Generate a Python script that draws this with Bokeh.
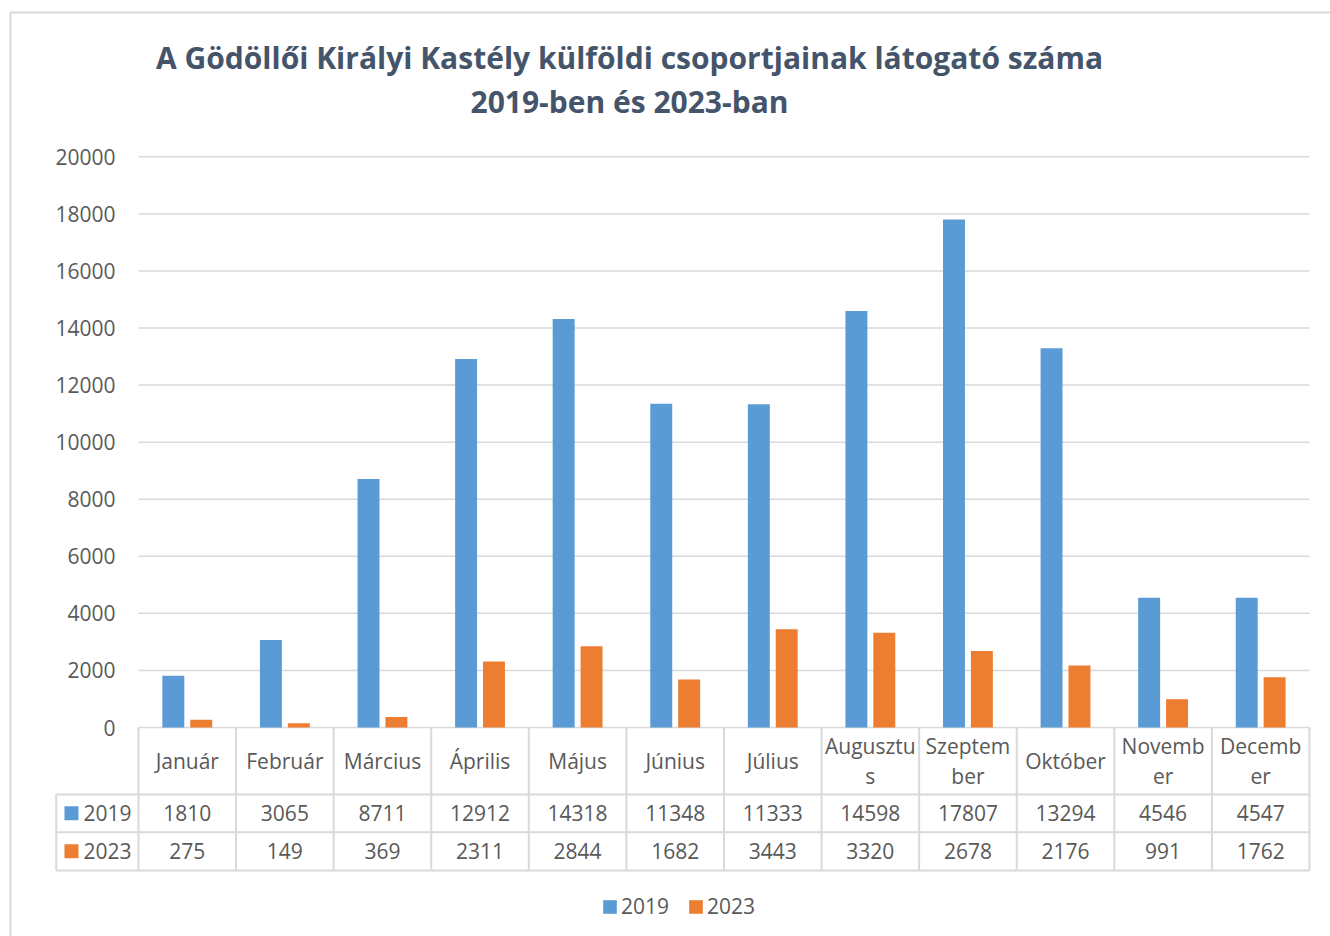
from bokeh.plotting import figure
from bokeh.models import ColumnDataSource, Range1d, Legend, LegendItem
from bokeh.embed import file_html
from bokeh.resources import INLINE
from bokeh.core.properties import value

# ---------------- data ----------------
months = ["Január", "Február", "Március", "Április", "Május", "Június",
          "Július", "Augusztus", "Szeptember", "Október", "November", "December"]
month_labels = ["Január", "Február", "Március", "Április", "Május", "Június",
                "Július", "Augusztu\ns", "Szeptem\nber", "Október", "Novemb\ner", "Decemb\ner"]
series_names = ["2019", "2023"]
v2019 = [1810, 3065, 8711, 12912, 14318, 11348, 11333, 14598, 17807, 13294, 4546, 4547]
v2023 = [275, 149, 369, 2311, 2844, 1682, 3443, 3320, 2678, 2176, 991, 1762]
y_ticks = [0, 2000, 4000, 6000, 8000, 10000, 12000, 14000, 16000, 18000, 20000]
title_lines = ["A Gödöllői Királyi Kastély külföldi csoportjainak látogató száma",
               "2019-ben és 2023-ban"]

# ---------------- style ----------------
colors = ["#5B9BD5", "#ED7D31"]
FONT = "Open Sans"
TXT = "#595959"
GRID = "#D9D9D9"
TITLE_C = "#44546A"
FS = "21px"
BAR_W = 0.225
DODGE = 0.143

n = len(months)
centers = [i + 0.5 for i in range(n)]

W, H = 1330, 936
p = figure(width=W, height=H, title=None,
           x_range=Range1d(-1.41423, 12.2156), y_range=Range1d(-7324, 25478),
           x_axis_location=None, y_axis_location=None,
           output_backend="svg", toolbar_location=None,
           min_border_left=0, min_border_right=0, min_border_top=0, min_border_bottom=0)
# layout ranges in canvas pixels (x from left, y downward from the value-axis zero line)
p.extra_x_ranges = {"px": Range1d(0, W)}
p.extra_y_ranges = {"tbl": Range1d(209, -727)}
p.outline_line_color = None
p.background_fill_color = "white"
p.border_fill_color = "white"
p.grid.visible = False
for g in list(p.center):
    if g.__class__.__name__ == "Grid":
        g.visible = False

# ---------------- chart-area border ----------------
PX = dict(x_range_name="px", y_range_name="tbl")
p.segment(x0=[10, 10], x1=[10, W], y0=[-715, -715], y1=[209, -715],
          line_color=GRID, line_width=2, **PX)

# ---------------- title ----------------
p.text(x=[629, 629], y=[-670, -626], text=title_lines, text_align="center", text_baseline="middle",
       text_font=value(FONT), text_font_size="30px", text_font_style="bold", text_color=TITLE_C, **PX)

# ---------------- gridlines + value labels ----------------
gl = p.segment(x0=[0] * len(y_ticks), x1=[n] * len(y_ticks), y0=y_ticks, y1=y_ticks,
               line_color=GRID, line_width=1.5)
gl.level = "underlay"
p.text(x=[0] * len(y_ticks), y=y_ticks, text=[str(t) for t in y_ticks], x_offset=-23,
       text_align="right", text_baseline="middle",
       text_font=value(FONT), text_font_size=FS, text_color=TXT)

# ---------------- bars ----------------
src19 = ColumnDataSource(dict(x=[c - DODGE for c in centers], top=v2019, month=months))
src23 = ColumnDataSource(dict(x=[c + DODGE for c in centers], top=v2023, month=months))
p.vbar(x="x", top="top", bottom=0, width=BAR_W, source=src19, fill_color=colors[0], line_color=None)
p.vbar(x="x", top="top", bottom=0, width=BAR_W, source=src23, fill_color=colors[1], line_color=None)

# ---------------- data table ----------------
LEFT = -0.843
ROW_HDR, ROW_A, ROW_B = 67, 104.7, 143
T = dict(y_range_name="tbl")
tb_lines = dict(line_color=GRID, line_width=2, **T)
p.segment(x0=[LEFT] * 3, x1=[n] * 3, y0=[ROW_HDR, ROW_A, ROW_B], y1=[ROW_HDR, ROW_A, ROW_B], **tb_lines)
bounds = list(range(n + 1))
p.segment(x0=bounds, x1=bounds, y0=[0] * (n + 1), y1=[ROW_B] * (n + 1), **tb_lines)
p.segment(x0=[LEFT], x1=[LEFT], y0=[ROW_HDR], y1=[ROW_B], **tb_lines)

txt = dict(text_font=value(FONT), text_font_size=FS, text_color=TXT, text_baseline="middle", **T)
p.text(x=centers, y=[ROW_HDR / 2] * n, text=month_labels, text_align="center",
       text_line_height=1.05, **txt)
row_y = [(ROW_HDR + ROW_A) / 2, (ROW_A + ROW_B) / 2]
for vals, ry in zip([v2019, v2023], row_y):
    p.text(x=centers, y=[ry] * n, text=[str(v) for v in vals], text_align="center", **txt)

rends = []
for name, col, ry in zip(series_names, colors, row_y):
    r = p.rect(x=[-0.687], y=[ry], width=14, height=14, width_units="screen",
               height_units="screen", fill_color=col, line_color=None, **T)
    rends.append(r)
    p.text(x=[-0.564], y=[ry], text=[name], text_align="left", **txt)

legend = Legend(items=[LegendItem(label=nm, renderers=[r]) for nm, r in zip(series_names, rends)],
                orientation="horizontal", location=(601, 16),
                glyph_width=17, glyph_height=17, label_standoff=3, spacing=18,
                label_text_font=FONT, label_text_font_size=FS, label_text_color=TXT,
                border_line_color=None, background_fill_alpha=0, padding=0, margin=0)
p.add_layout(legend)

open("out.html", "w").write(file_html(p, INLINE))
